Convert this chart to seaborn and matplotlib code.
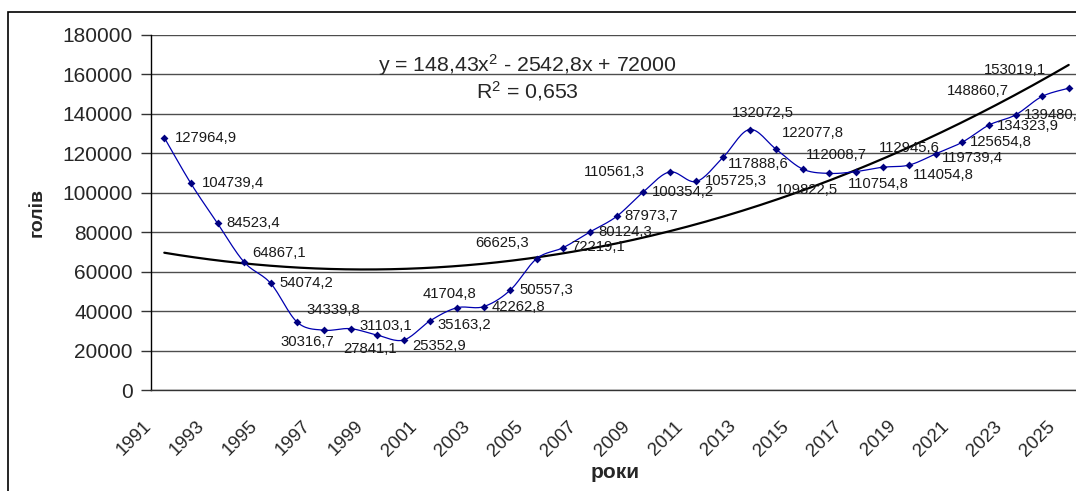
import numpy as np
import matplotlib
matplotlib.use("Agg")
import matplotlib.pyplot as plt
import seaborn as sns
from matplotlib import transforms, patches

# data
years = list(range(1991, 2026))
values = [127964.9, 104739.4, 84523.4, 64867.1, 54074.2, 34339.8, 30316.7, 31103.1,
          27841.1, 25352.9, 35163.2, 41704.8, 42262.8, 50557.3, 66625.3, 72219.1,
          80124.3, 87973.7, 100354.2, 110561.3, 105725.3, 117888.6, 132072.5, 122077.8,
          112008.7, 109822.5, 110754.8, 112945.6, 114054.8, 119739.4, 125654.8, 134323.9,
          139480.5, 148860.7, 153019.1]
value_labels = [f"{v:.1f}".replace(".", ",") for v in values]

# trend line coefficients shown on the chart (x = 1..35)
trend_a, trend_b, trend_c = 148.43, -2542.8, 72000
eq_text = r"y = 148,43x$^{2}$ - 2542,8x + 72000"
r2_text = r"R$^{2}$ = 0,653"

# label offsets in pixels (dx, dy), placement as in the original
label_offsets = [(11, 0), (11, 0), (9, 0), (8, 9), (9, 0), (9, 12), (-43, -12), (9, 3),
                 (-34, -14), (9, -6), (7, -4), (-34, 14), (8, 0), (9, 0), (-61, 16), (8, 1),
                 (8, 0), (8, 0), (9, 0), (-86, 0), (9, 0), (5, -7), (-18, 17), (6, 16),
                 (3, 14), (-53, -17), (-8, -12), (-4, 19), (4, -10), (6, -4), (8, 0),
                 (8, -1), (8, 0), (-95, 5), (-85, 18)]


def smooth_line(x, y, n=16):
    # Catmull-Rom style smoothing like the spreadsheet "smoothed line"
    x = np.asarray(x, float)
    y = np.asarray(y, float)
    px = np.concatenate([[x[0]], x, [x[-1]]])
    py = np.concatenate([[y[0]], y, [y[-1]]])
    xs, ys = [], []
    t = np.linspace(0, 1, n, endpoint=False)
    for i in range(1, len(px) - 2):
        p0, p1, p2, p3 = np.array([px[i-1], py[i-1]]), np.array([px[i], py[i]]), \
            np.array([px[i+1], py[i+1]]), np.array([px[i+2], py[i+2]])
        c1 = p1 + (p2 - p0) / 6
        c2 = p2 - (p3 - p1) / 6
        b = ((1-t)**3)[:, None]*p1 + (3*(1-t)**2*t)[:, None]*c1 + (3*(1-t)*t**2)[:, None]*c2 + (t**3)[:, None]*p2
        xs.extend(b[:, 0])
        ys.extend(b[:, 1])
    xs.append(x[-1])
    ys.append(y[-1])
    return np.array(xs), np.array(ys)


sns.set_style("white")
plt.rcParams["font.family"] = ["Liberation Sans", "DejaVu Sans"]
plt.rcParams["mathtext.fontset"] = "custom"
plt.rcParams["mathtext.rm"] = "Liberation Sans"
plt.rcParams["mathtext.it"] = "Liberation Sans"

W, H = 1076, 491
fig = plt.figure(figsize=(W / 100, H / 100), dpi=100)
ax = fig.add_axes([151 / W, 101 / H, 931 / W, 355 / H])

pos = np.arange(len(years))
sx, sy = smooth_line(pos, values)
sns.lineplot(x=sx, y=sy, ax=ax, color="#0000b0", lw=0.9, sort=False, zorder=3)
sns.scatterplot(x=pos, y=values, ax=ax, marker="D", s=16, color="#000080",
                edgecolor="#000080", linewidth=0, zorder=4)

tx = np.linspace(1, len(years), 300)
ty = trend_a * tx**2 + trend_b * tx + trend_c
sns.lineplot(x=tx - 1, y=ty, ax=ax, color="black", lw=1.6, zorder=2)

for i, (v, lab) in enumerate(zip(values, value_labels)):
    dx, dy = label_offsets[i]
    ax.annotate(lab, (pos[i], v), xytext=(dx, dy), textcoords="offset pixels",
                ha="left", va="center", fontsize=10.7, color="#1a1a1a",
                annotation_clip=False, zorder=5)

ax.set_xlim(-0.5, len(years) - 0.5)
ax.set_ylim(0, 180000)
ax.set_yticks(np.arange(0, 180001, 20000))
ax.set_yticklabels([str(v) for v in range(0, 180001, 20000)], fontsize=15)
ax.yaxis.grid(True, color="#4d4d4d", lw=1.0)
ax.set_axisbelow(True)

ax.set_xticks(pos[::2])
ax.set_xticklabels([str(y) for y in years[::2]], rotation=45, ha="right", va="top", fontsize=13.5)
ax.set_xticks(np.arange(-0.5, len(years), 1), minor=True)
ax.tick_params(axis="x", which="major", length=0, pad=20)
ax.tick_params(axis="x", which="minor", length=6, width=1, color="#333333", direction="out")
ax.tick_params(axis="y", length=7, width=1, color="#333333", direction="out", pad=6, left=True)
shift = transforms.ScaledTranslation(-0.10, 0, fig.dpi_scale_trans)
for t in ax.get_xticklabels():
    t.set_transform(t.get_transform() + shift)

for s in ["top", "right"]:
    ax.spines[s].set_visible(False)
ax.spines["left"].set_color("black")
ax.spines["left"].set_linewidth(1.0)
ax.spines["bottom"].set_color("#333333")
ax.spines["bottom"].set_linewidth(1.0)

ax.set_ylabel("голів", fontsize=14, fontweight="bold")
ax.yaxis.set_label_coords(-0.113, 0.5)
fig.text(615 / W, 1 - 472 / H, "роки", ha="center", va="center", fontsize=15, fontweight="bold")

ax.text(0.404, 0.915, eq_text, transform=ax.transAxes, ha="center", va="center", fontsize=15.3)
ax.text(0.404, 0.842, r2_text, transform=ax.transAxes, ha="center", va="center", fontsize=15.3)

fig.add_artist(patches.Rectangle((8 / W, -0.1), 1.2, 1.1 - 12 / H, transform=fig.transFigure,
                                 fill=False, ec="black", lw=1.2))

fig.savefig("out.png", dpi=100)
